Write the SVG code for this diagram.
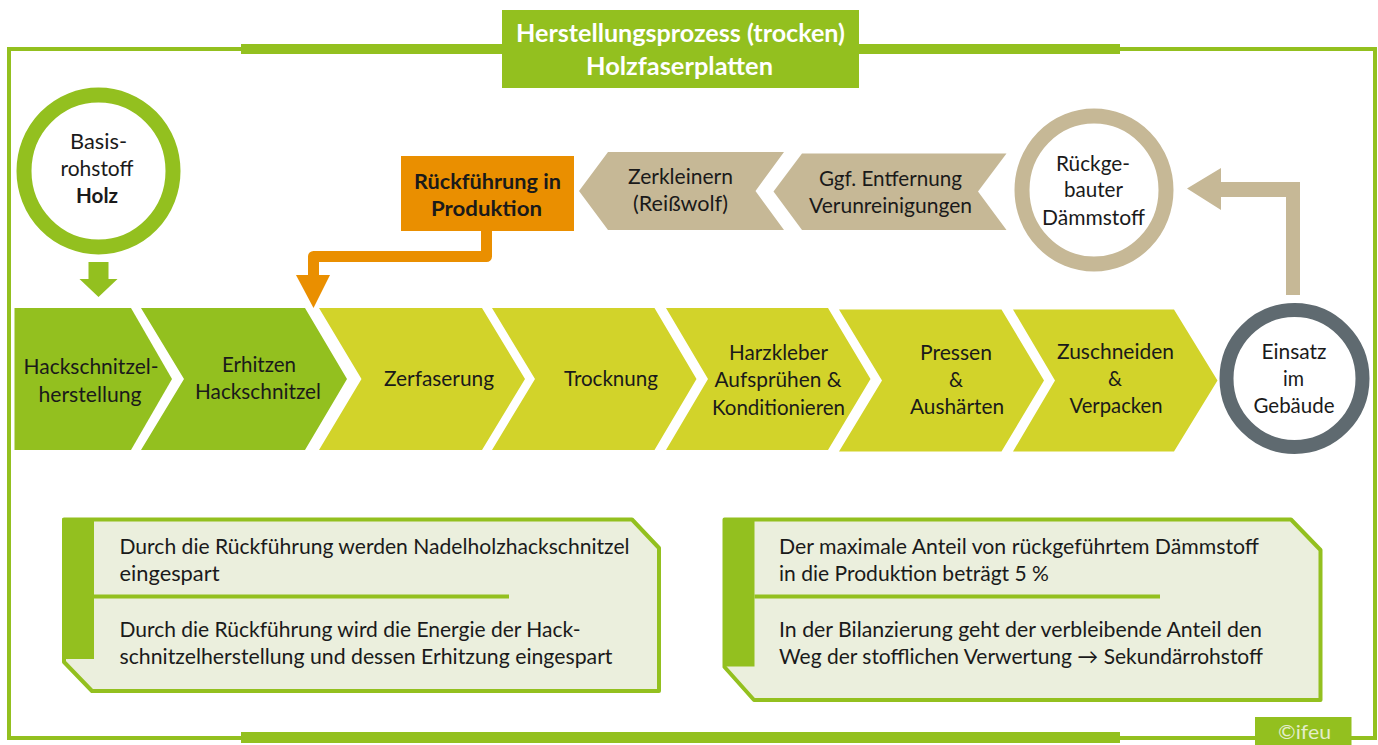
<svg xmlns="http://www.w3.org/2000/svg" width="1378" height="745" viewBox="0 0 1378 745">
<style>
text{font-family:"Lato","Liberation Sans",sans-serif;font-size:21px;fill:#1a1a1a;text-anchor:middle}
.l{text-anchor:start}
.b{font-weight:700}
.w{fill:#fff;font-weight:700;font-size:25px}
.g{fill:#93c01f}
.y{fill:#d2d32a}
.t{fill:#c6b896}
.o{fill:#ea8f00}
.n{fill:#ebefdd;stroke:#93c01f;stroke-width:4;stroke-linejoin:round}
</style>
<rect width="1378" height="745" fill="#fff"/>
<g id="frame">
<rect x="9" y="49" width="1366" height="689" fill="none" stroke="#93c01f" stroke-width="4"/>
<rect class="g" x="241" y="44" width="879" height="10"/>
<rect class="g" x="241" y="732" width="879" height="11"/>
</g>
<g id="title"><rect class="g" x="502" y="10" width="357" height="78"/>
<text class="w" x="680.500" y="42" textLength="329" lengthAdjust="spacingAndGlyphs">Herstellungsprozess (trocken)</text>
<text class="w" x="679.500" y="75" textLength="187" lengthAdjust="spacingAndGlyphs">Holzfaserplatten</text></g>
<g id="connectors">
<polygon class="g" points="88.500,262 108.500,262 108.500,279 117.500,279 98.500,297 79.500,279 88.500,279"/>
<path d="M486.500,230V256.500H313.500V278" fill="none" stroke="#ea8f00" stroke-width="11" stroke-linejoin="round"/>
<polygon class="o" points="296,275 330,275 313.500,308"/>
<polygon class="t" points="1300,295 1286,295 1286,197 1221,197 1221,210 1187,188.500 1221,168 1221,182 1300,182"/>
</g>
<g id="basis"><ellipse cx="98.500" cy="171" rx="74.500" ry="76" fill="#fff" stroke="#93c01f" stroke-width="15"/>
<text x="98.500" y="149" textLength="57" lengthAdjust="spacingAndGlyphs">Basis-</text><text x="97" y="176" textLength="73" lengthAdjust="spacingAndGlyphs">rohstoff</text><text class="b" x="97" y="203" textLength="42" lengthAdjust="spacingAndGlyphs">Holz</text></g>
<g id="rueckfuehrung"><rect class="o" x="401" y="156" width="173" height="75"/>
<text class="b" x="487.500" y="189" textLength="147" lengthAdjust="spacingAndGlyphs">Rückführung in</text><text class="b" x="486.500" y="216" textLength="111" lengthAdjust="spacingAndGlyphs">Produktion</text></g>
<g id="zerkleinern"><polygon class="t" points="579,191 608,152 784,152 755.500,191 784,230 608,230"/>
<text x="680.500" y="184" textLength="105" lengthAdjust="spacingAndGlyphs">Zerkleinern</text><text x="680.500" y="211" textLength="95" lengthAdjust="spacingAndGlyphs">(Reißwolf)</text></g>
<g id="entfernung"><polygon class="t" points="773.500,191.500 802,153.500 1006.500,153.500 978,191.500 1006.500,230 802,230"/>
<text x="890.500" y="186" textLength="143" lengthAdjust="spacingAndGlyphs">Ggf. Entfernung</text><text x="890.500" y="213" textLength="163" lengthAdjust="spacingAndGlyphs">Verunreinigungen</text></g>
<g id="rueckgebaut"><ellipse cx="1094" cy="190" rx="72" ry="74" fill="#fff" stroke="#c6b896" stroke-width="15"/>
<text x="1093" y="171" textLength="74" lengthAdjust="spacingAndGlyphs">Rückge-</text><text x="1093.500" y="197" textLength="59" lengthAdjust="spacingAndGlyphs">bauter</text><text x="1093.500" y="225" textLength="103" lengthAdjust="spacingAndGlyphs">Dämmstoff</text></g>
<g id="s1"><polygon class="g" points="14.500,308 131,308 172,379 131,450 14.500,450"/>
<text x="91" y="374" textLength="135" lengthAdjust="spacingAndGlyphs">Hackschnitzel-</text><text x="90" y="402" textLength="103" lengthAdjust="spacingAndGlyphs">herstellung</text></g>
<g id="s2"><polygon class="g" points="141,308 305,308 347,379 305,450 141,450 184,379"/>
<text x="259" y="372" textLength="74" lengthAdjust="spacingAndGlyphs">Erhitzen</text><text x="258" y="399" textLength="126" lengthAdjust="spacingAndGlyphs">Hackschnitzel</text></g>
<g id="s3"><polygon class="y" points="319,308 482,308 525,379 482,450 319,450 361.500,379"/>
<text x="439" y="386" textLength="110" lengthAdjust="spacingAndGlyphs">Zerfaserung</text></g>
<g id="s4"><polygon class="y" points="492,308 654.500,308 696.500,379 654.500,450 492,450 535,379"/>
<text x="611" y="386" textLength="94" lengthAdjust="spacingAndGlyphs">Trocknung</text></g>
<g id="s5"><polygon class="y" points="666,308 828,308 870.500,379 828,450 666,450 708,379"/>
<text x="778.500" y="360" textLength="99" lengthAdjust="spacingAndGlyphs">Harzkleber</text><text x="778" y="387" textLength="127" lengthAdjust="spacingAndGlyphs">Aufsprühen &amp;</text><text x="778.500" y="415" textLength="133" lengthAdjust="spacingAndGlyphs">Konditionieren</text></g>
<g id="s6"><polygon class="y" points="839,309.500 1001.500,309.500 1044,380.500 1001.500,451.500 839,451.500 882,380.500"/>
<text x="956" y="360" textLength="72" lengthAdjust="spacingAndGlyphs">Pressen</text><text x="956" y="387" textLength="14" lengthAdjust="spacingAndGlyphs">&amp;</text><text x="957" y="414" textLength="94" lengthAdjust="spacingAndGlyphs">Aushärten</text></g>
<g id="s7"><polygon class="y" points="1013,309.500 1174,309.500 1217.500,380.500 1174,451.500 1013,451.500 1055,380.500"/>
<text x="1115.500" y="359" textLength="117" lengthAdjust="spacingAndGlyphs">Zuschneiden</text><text x="1115" y="386" textLength="14" lengthAdjust="spacingAndGlyphs">&amp;</text><text x="1116" y="413" textLength="93" lengthAdjust="spacingAndGlyphs">Verpacken</text></g>
<g id="einsatz"><ellipse cx="1294.500" cy="378.500" rx="68" ry="68.500" fill="#fff" stroke="#5f6a70" stroke-width="14"/>
<text x="1294" y="359" textLength="65" lengthAdjust="spacingAndGlyphs">Einsatz</text><text x="1293.500" y="386" textLength="21" lengthAdjust="spacingAndGlyphs">im</text><text x="1294" y="413" textLength="81" lengthAdjust="spacingAndGlyphs">Gebäude</text></g>
<g id="note1"><polygon class="n" points="64,519.500 632,519.500 659,548 659,691 92,691 64,662"/>
<rect class="g" x="62.500" y="518" width="31.500" height="141"/>
<rect class="g" x="94" y="594.500" width="415" height="4"/>
<text class="l" x="119.500" y="554" textLength="510" lengthAdjust="spacingAndGlyphs">Durch die Rückführung werden Nadelholzhackschnitzel</text>
<text class="l" x="119.500" y="581" textLength="100" lengthAdjust="spacingAndGlyphs">eingespart</text>
<text class="l" x="119.500" y="637" textLength="461" lengthAdjust="spacingAndGlyphs">Durch die Rückführung wird die Energie der Hack-</text>
<text class="l" x="119.500" y="664" textLength="493" lengthAdjust="spacingAndGlyphs">schnitzelherstellung und dessen Erhitzung eingespart</text></g>
<g id="note2"><polygon class="n" points="724.500,519.500 1291,519.500 1320.500,550 1320.500,700 754,700 724.500,667"/>
<rect class="g" x="723" y="518" width="31.500" height="148.500"/>
<rect class="g" x="754.500" y="594.500" width="405.500" height="4"/>
<text class="l" x="779" y="554" textLength="480" lengthAdjust="spacingAndGlyphs">Der maximale Anteil von rückgeführtem Dämmstoff</text>
<text class="l" x="779" y="581" textLength="270" lengthAdjust="spacingAndGlyphs">in die Produktion beträgt 5 %</text>
<text class="l" x="779" y="637" textLength="483" lengthAdjust="spacingAndGlyphs">In der Bilanzierung geht der verbleibende Anteil den</text>
<text class="l" x="779" y="664" textLength="484" lengthAdjust="spacingAndGlyphs">Weg der stofflichen Verwertung → Sekundärrohstoff</text></g>
<g id="copyright"><rect class="g" x="1255" y="717" width="96.500" height="28"/>
<text x="1304.500" y="739" textLength="53" lengthAdjust="spacingAndGlyphs" style="fill:#e4edcb;font-size:19px">©ifeu</text></g>
</svg>
